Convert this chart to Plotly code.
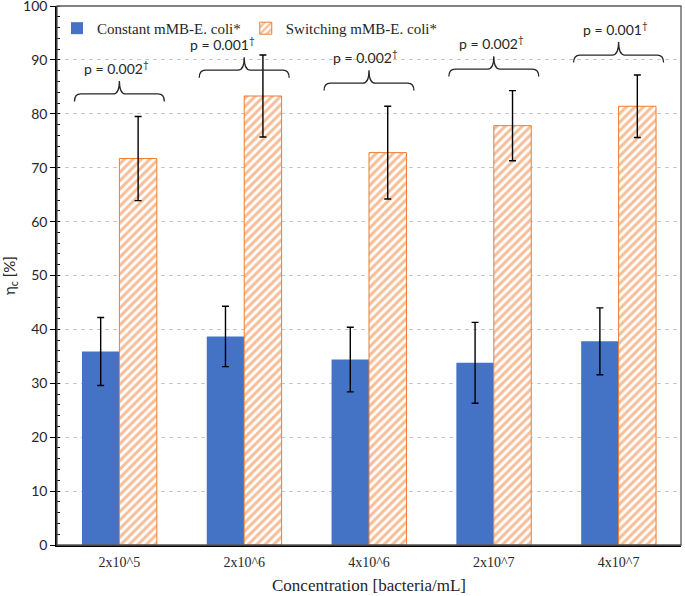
import plotly.graph_objects as go

# ---- data ----
categories = ["2x10^5", "2x10^6", "4x10^6", "2x10^7", "4x10^7"]
constant = [35.9, 38.7, 34.4, 33.8, 37.8]
constant_err = [6.3, 5.6, 6.0, 7.5, 6.2]
switching = [71.7, 83.3, 72.8, 77.8, 81.4]
switching_err = [7.8, 7.6, 8.6, 6.5, 5.8]
p_values = ["p = 0.002", "p = 0.001", "p = 0.002", "p = 0.002", "p = 0.001"]
bracket_levels = [83.7, 88.1, 85.7, 88.3, 90.9]

# ---- styling ----
BLUE = "#4472C4"
ORANGE = "#ED7D31"
SERIF = "Liberation Serif"
SANS = "Lato"
label_dx = [-3, -22, -4, -2, -3]   # px offsets of p-value labels

x_idx = list(range(len(categories)))

fig = go.Figure()
fig.add_trace(go.Bar(
    name="Constant mMB-E. coli*", x=x_idx, y=constant,
    marker=dict(color=BLUE, line=dict(width=0)),
    error_y=dict(type="data", array=constant_err, color="black", thickness=1.4, width=3.5),
))
fig.add_trace(go.Bar(
    name="Switching mMB-E. coli*", x=x_idx, y=switching,
    marker=dict(color=ORANGE, line=dict(color=ORANGE, width=1),
                pattern=dict(shape="/", fgcolor=ORANGE, bgcolor="white", size=6, solidity=0.5)),
    error_y=dict(type="data", array=switching_err, color="black", thickness=1.4, width=3.5),
))

# curly brackets with p-values
half = 0.36
r = 0.05
for i, lvl in enumerate(bracket_levels):
    x0, x1, xm = i - half, i + half, i
    ye, yt = lvl - 1.4, lvl + 2.4
    path = (f"M {x0},{ye} Q {x0},{lvl} {x0 + r},{lvl} L {xm - r},{lvl} "
            f"Q {xm},{lvl} {xm},{yt} Q {xm},{lvl} {xm + r},{lvl} "
            f"L {x1 - r},{lvl} Q {x1},{lvl} {x1},{ye}")
    fig.add_shape(type="path", path=path, xref="x", yref="y",
                  line=dict(color="#262626", width=1.3))
    fig.add_annotation(x=xm, y=yt, xref="x", yref="y", text=p_values[i] + "<sup>†</sup>",
                       showarrow=False, yanchor="bottom", yshift=2, xshift=label_dx[i],
                       font=dict(family=SANS, size=14, color="#262626"))

# outer frame of plot area
fig.add_shape(type="rect", xref="paper", yref="paper", x0=0, x1=1, y0=0, y1=1,
              line=dict(color="#595959", width=1.3), fillcolor="rgba(0,0,0,0)", layer="above")

fig.update_layout(
    width=685, height=596,
    margin=dict(l=57, r=4, t=6, b=51, autoexpand=False),
    paper_bgcolor="white", plot_bgcolor="white",
    barmode="group", bargap=0.4, bargroupgap=0,
    showlegend=True,
    legend=dict(orientation="h", x=0.0, y=0.989, xanchor="left", yanchor="top",
                font=dict(family=SERIF, size=15, color="#262626"),
                bgcolor="rgba(0,0,0,0)", itemwidth=30, tracegroupgap=0),
    xaxis=dict(
        range=[-0.5, len(categories) - 0.5], automargin=False,
        tickmode="array", tickvals=x_idx, ticktext=categories,
        ticks="", ticklabelstandoff=3, showgrid=False, zeroline=False,
        showline=True, linecolor="black", linewidth=1.5,
        tickfont=dict(family=SERIF, size=14, color="#262626"),
        title=dict(text="Concentration [bacteria/mL]", standoff=11,
                   font=dict(family=SERIF, size=17, color="#262626")),
    ),
    yaxis=dict(
        range=[0, 100], dtick=10, tick0=0, automargin=False, ticklabeloverflow="allow",
        ticks="outside", ticklen=5, tickcolor="black", tickwidth=1.2,
        minor=dict(dtick=2, ticks="inside", ticklen=3, tickcolor="black", tickwidth=1, showgrid=False),
        showgrid=True, gridcolor="#C8C8C8", griddash="4px,4px", gridwidth=1,
        zeroline=False, showline=True, linecolor="black", linewidth=1.5,
        tickfont=dict(family=SANS, size=14, color="#262626"),
        title=dict(text="η<sub>c</sub> [%]", standoff=9,
                   font=dict(family=SANS, size=15, color="#262626")),
    ),
)

fig.write_html("out.html", config={"displayModeBar": False},
               post_script="document.body.style.margin='0px';")
